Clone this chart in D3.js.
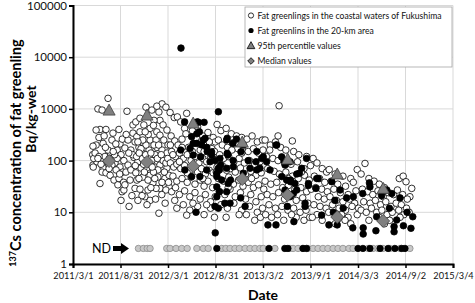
<!DOCTYPE html>
<html>
<head>
<meta charset="utf-8">
<script src="https://cdn.jsdelivr.net/npm/d3@7"></script>
<style>
  body { margin: 0; background: #fff; }
  svg { display: block; font-family: Lato, "Open Sans", sans-serif; }
</style>
</head>
<body>
<div id="chart"></div>
<script>
// days counted from 2011/3/1, values in Bq/kg-wet
var startDate = new Date(2011, 2, 1);

var xTickLabels = ["2011/3/1","2011/8/31","2012/3/1","2012/8/31","2013/3/2","2013/9/1","2014/3/3","2014/9/2","2015/3/4"];
var yTickValues = [1, 10, 100, 1000, 10000, 100000];

// fat greenlings, coastal waters of Fukushima (open circles)
var coastalPts = [
  [96,1000],[112,950],[135,1600],[208,900],[104,400],[127,400],[154,340],[177,400],[150,250],[89,200],
  [116,215],[181,210],[77,190],[77,82],[92,95],[116,72],[112,60],[127,58],[104,36],[162,90],
  [181,75],[143,52],[158,42],[173,34],[189,25],[185,17],[196,27],[150,82],[166,66],[177,45],
  [192,60],[143,130],[170,160],[196,100],[185,130],[200,175],[135,160],[123,120],[89,390],[76,130],
  [80,110],[78,75],[85,140],[100,280],[120,300],[100,120],[131,95],[139,70],[108,85],[165,210],
  [150,110],[190,260],[170,110],[160,130],[96,110],[125,180],[140,110],[155,150],[180,55],[195,38],
  [216,13],[200,34],[220,42],[239,29],[246,42],[258,28],[269,48],[231,340],[231,490],[246,290],
  [239,230],[254,180],[266,140],[297,250],[281,1080],[304,950],[331,870],[335,600],[347,490],[323,360],
  [323,180],[343,160],[362,140],[316,75],[335,82],[362,72],[327,48],[354,45],[370,31],[335,29],
  [331,9.6],[212,250],[223,160],[235,115],[250,95],[262,72],[273,100],[285,72],[297,52],[308,37],
  [289,27],[277,20],[304,100],[316,130],[293,160],[281,200],[269,250],[258,360],[242,560],[258,660],
  [273,490],[297,420],[312,600],[320,250],[335,310],[350,250],[362,390],[347,100],[358,90],[327,66],
  [297,17],[285,14],[266,21],[250,17],[227,21],[212,82],[204,60],[223,66],[242,58],[254,45],
  [289,42],[320,29],[343,38],[358,27],[370,52],[366,200],[343,1250],[323,1130],[358,1080],[266,110],
  [280,130],[292,85],[310,60],[300,30],[240,80],[230,130],[215,140],[205,320],[250,230],[262,170],
  [275,60],[300,140],[312,200],[325,110],[340,130],[352,60],[365,110],[368,38],[318,18],[342,22],
  [355,15],[290,320],[278,360],[310,480],[330,200],[245,120],[255,140],[272,85],[305,75],[315,45],
  [374,850],[390,680],[402,700],[438,820],[415,560],[430,420],[460,380],[480,450],[500,300],[520,350],
  [540,280],[378,300],[392,240],[405,200],[420,260],[445,180],[470,220],[490,160],[510,200],[535,170],
  [548,230],[380,150],[395,120],[410,140],[425,110],[440,130],[455,100],[470,120],[485,90],[500,110],
  [515,95],[530,120],[545,105],[375,90],[388,75],[400,85],[415,70],[430,80],[450,65],[465,75],
  [480,60],[495,70],[510,55],[525,65],[540,58],[385,50],[400,40],[420,45],[440,38],[455,48],
  [470,35],[490,42],[505,32],[520,40],[538,30],[380,25],[395,30],[410,22],[430,26],[450,20],
  [470,24],[490,18],[510,22],[530,16],[548,20],[400,12],[425,14],[450,11],[480,13],[505,9],
  [530,12],[545,8],[392,17],[462,15],[515,14],[375,200],[435,330],[475,280],[505,150],[525,230],
  [545,150],[410,95],[460,150],[500,45],[420,180],[385,130],[440,58],[438,8.8],
  [555,500],[570,380],[590,420],[610,330],[630,300],[650,280],[670,260],[690,300],[710,230],[730,250],
  [560,250],[575,200],[595,180],[615,220],[635,170],[655,190],[675,150],[695,170],[715,140],[732,160],
  [565,130],[580,110],[600,120],[620,95],[640,110],[660,90],[680,100],[700,85],[720,95],[555,75],
  [575,80],[592,65],[608,70],[625,60],[645,72],[665,55],[685,62],[705,52],[725,58],[560,45],
  [580,40],[600,48],[618,35],[638,42],[655,32],[675,38],[695,30],[715,34],[735,28],[565,25],
  [585,22],[605,28],[625,20],[645,24],[665,18],[685,22],[705,16],[725,20],[570,14],[595,12],
  [620,15],[650,11],[680,13],[710,10],[730,12],[590,8],[640,9],[700,7],[612,160],[688,45],
  [552,60],[650,140],[598,30],[668,9],[722,8],
  [794,1150],[740,250],[760,200],[780,230],[800,180],[820,160],[850,150],[870,130],[900,120],[745,120],
  [770,110],[790,100],[815,90],[840,85],[865,95],[890,70],[915,80],[750,70],[775,62],[795,55],
  [820,60],[845,50],[868,45],[892,52],[910,42],[740,40],[762,35],[785,38],[808,30],[830,33],
  [855,28],[878,30],[900,25],[918,28],[748,22],[770,20],[792,24],[815,18],[838,21],[860,17],
  [885,19],[905,15],[755,14],[780,12],[805,13],[828,11],[850,12],[875,10],[898,11],[765,8],
  [812,7],[860,8],[890,7],[830,45],[758,160],[880,60],[845,240],[790,300],[742,9],[788,9],[842,9],[912,8],
  [925,110],[940,90],[960,70],[977,60],[987,67],[1010,55],[1040,50],[1070,45],[1095,67],[930,50],
  [950,45],[970,38],[995,40],[1020,35],[1050,32],[1080,38],[935,30],[958,28],[980,25],[1005,28],
  [1030,24],[1060,22],[1090,26],[945,20],[968,18],[990,20],[1015,17],[1040,16],[1065,18],[1085,15],
  [928,14],[952,13],[975,12],[1000,14],[1025,12],[1050,11],[1075,13],[1100,12],[940,9],[985,10],
  [1035,9],[1060,8],[1095,9],[960,7],[1010,6],[1070,6],[922,8],[1022,7.5],[1048,7],
  [1125,88],[1110,55],[1140,45],[1160,40],[1180,35],[1200,30],[1257,45],[1272,50],[1283,39],[1305,29],
  [1298,20],[1115,28],[1135,25],[1155,22],[1175,26],[1195,20],[1215,24],[1235,22],[1250,27],[1270,22],
  [1288,18],[1120,16],[1145,15],[1165,17],[1185,14],[1205,16],[1225,13],[1245,15],[1265,14],[1285,12],
  [1110,11],[1130,10],[1150,12],[1170,10],[1190,11],[1210,9],[1230,10],[1255,11],[1275,9],[1295,10],
  [1140,7],[1180,8],[1220,7],[1260,8],[1200,6]
];

// fat greenlings in the 20-km area (filled circles)
var zonePts = [
  [416,15000],[560,880],[430,560],[479,560],[505,550],[457,290],[487,360],[477,215],[502,250],[515,180],
  [415,160],[451,172],[463,128],[492,118],[534,148],[547,100],[431,66],[457,49],[489,49],[515,66],
  [560,71],[554,57],[554,31],[483,550],[477,330],[509,270],[463,215],[496,200],[517,150],[534,128],
  [528,95],[566,110],[569,82],[564,66],[554,49],[573,42],[564,25],[554,20],[547,13],[560,12],
  [548,4],[474,10],
  [594,270],[630,260],[594,138],[617,100],[592,71],[607,42],[592,25],[605,15],[585,15],[656,200],
  [647,148],[675,100],[682,71],[656,57],[646,19],[663,13],[708,66],[727,110],[616,215],[597,128],
  [618,76],[598,36],[592,250],
  [746,95],[759,66],[782,200],[804,118],[817,82],[836,95],[862,55],[881,71],[900,110],[907,36],
  [838,39],[817,27],[836,20],[862,27],[894,15],[939,45],[936,29],[751,5.7],[782,5.7],[708,150],
  [705,95],[733,118],[720,71],[785,200],[813,100],[804,49],[823,42],[838,42],[855,36],[849,23],
  [826,13],[872,57],[894,13],[907,33],[851,6.6],
  [945,45],[958,8.8],[997,39],[1029,27],[1041,12],[1009,17],[1003,10],[1054,19],[1080,20],[1078,5],
  [986,5.7],[1018,5.7],
  [1116,23],[1142,37],[1144,31],[1118,5],[1118,3.8],[1167,4.4],[1170,8.2],[1189,21],[1209,27],[1219,12],
  [1228,23],[1260,19],[1237,5.3],[1237,4.2],[1273,5.5],[1302,4.9],[1309,8.2],[1247,7.1],[1287,10]
];

// not detected, plotted at 2 Bq/kg-wet
var ndValue = 2;
var ndCoastalDays = [252,271,286,297,361,374,397,419,440,477,502,521,573,589,605,624,641,663,682,701,
  720,733,778,836,848,867,886,905,925,944,963,982,1002,1021,1040,1063,1079,1137,1156,1175,1194,1221,1260,1298];
var ndZoneDays = [554,755,816,828,886,900,1098,1117,1144,1183,1214,1240,1266,1279];

var periodDates = ["2011/7/18","2011/12/11","2012/6/6","2012/12/12","2013/6/5","2013/12/13","2014/6/8"];
var pct95Values = [946,757,531,228,107,55,29];
var medianValues = [98,94,78,44,21.5,8.1,6.8];

var legendLabels = [
  "Fat greenlings in the coastal waters of Fukushima",
  "Fat greenlins in the 20-km area",
  "95th percentile values",
  "Median values"
];

var width = 475, height = 303;
var margin = {top: 5.5, right: 22, bottom: 39, left: 73};

var parseDate = d3.timeParse("%Y/%m/%d");
function dayToDate(d) { return new Date(2011, 2, 1 + d); }

var svg = d3.select("#chart").append("svg")
  .attr("width", width)
  .attr("height", height);

var x = d3.scaleTime()
  .domain([startDate, parseDate("2015/3/4")])
  .range([margin.left, width - margin.right]);

var y = d3.scaleLog()
  .domain([1, 100000])
  .range([height - margin.bottom, margin.top]);

var xTicks = xTickLabels.map(parseDate);

// grid
svg.append("g").selectAll("line.h")
  .data(yTickValues).enter().append("line")
    .attr("x1", margin.left).attr("x2", width - margin.right)
    .attr("y1", function(d){ return y(d); }).attr("y2", function(d){ return y(d); })
    .style("stroke", "#d9d9d9").style("stroke-width", 1);
svg.append("g").selectAll("line.v")
  .data(xTicks).enter().append("line")
    .attr("x1", function(d){ return x(d); }).attr("x2", function(d){ return x(d); })
    .attr("y1", margin.top).attr("y2", height - margin.bottom)
    .style("stroke", "#d9d9d9").style("stroke-width", 1);

// axes
var xAxis = svg.append("g")
  .attr("transform", "translate(0," + (height - margin.bottom) + ")")
  .call(d3.axisBottom(x).tickValues(xTicks).tickSize(4)
    .tickFormat(function(d, i){ return xTickLabels[i]; }));
xAxis.select(".domain").style("stroke", "#000").style("stroke-width", 2);
xAxis.selectAll(".tick line").style("stroke", "#000").style("stroke-width", 1.5);
xAxis.selectAll(".tick text")
  .attr("y", 8)
  .style("font-size", "9.2px").style("fill", "#111")
  .style("font-family", "Lato, sans-serif");

var yAxis = svg.append("g")
  .attr("transform", "translate(" + margin.left + ",0)")
  .call(d3.axisLeft(y).tickValues(yTickValues).tickSize(4).tickFormat(d3.format("d")));
yAxis.select(".domain").style("stroke", "#000").style("stroke-width", 2);
yAxis.selectAll(".tick line").style("stroke", "#000").style("stroke-width", 1.5);
yAxis.selectAll(".tick text")
  .attr("x", -6)
  .style("font-size", "11.5px").style("fill", "#111")
  .style("font-family", "Lato, sans-serif");

// ND points
svg.append("g").selectAll("circle")
  .data(ndCoastalDays).enter().append("circle")
    .attr("cx", function(d){ return x(dayToDate(d)); })
    .attr("cy", y(ndValue))
    .attr("r", 3.2)
    .style("fill", "#c8c8c8").style("stroke", "#8c8c8c").style("stroke-width", 0.8);
svg.append("g").selectAll("circle")
  .data(ndZoneDays).enter().append("circle")
    .attr("cx", function(d){ return x(dayToDate(d)); })
    .attr("cy", y(ndValue))
    .attr("r", 3.2)
    .style("fill", "#000").style("stroke", "#000").style("stroke-width", 0.8);

// coastal
svg.append("g").selectAll("circle")
  .data(coastalPts).enter().append("circle")
    .attr("cx", function(d){ return x(dayToDate(d[0])); })
    .attr("cy", function(d){ return y(d[1]); })
    .attr("r", 3.3)
    .style("fill", "#fff").style("stroke", "#000").style("stroke-width", 0.8);

// 20-km area
svg.append("g").selectAll("circle")
  .data(zonePts).enter().append("circle")
    .attr("cx", function(d){ return x(dayToDate(d[0])); })
    .attr("cy", function(d){ return y(d[1]); })
    .attr("r", 3.3)
    .style("fill", "#000").style("stroke", "#000").style("stroke-width", 0.8);

function triPath(s) { return "M0," + (-s*0.55) + "L" + (s*0.55) + "," + (s*0.45) + "L" + (-s*0.55) + "," + (s*0.45) + "Z"; }
function diaPath(s) { return "M0," + (-s) + "L" + s + ",0L0," + s + "L" + (-s) + ",0Z"; }

// 95th percentile
svg.append("g").selectAll("path")
  .data(pct95Values).enter().append("path")
    .attr("transform", function(d, i){ return "translate(" + x(parseDate(periodDates[i])) + "," + y(d) + ")"; })
    .attr("d", triPath(11))
    .style("fill", "#808080").style("stroke", "#404040").style("stroke-width", 0.8);

// medians
svg.append("g").selectAll("path")
  .data(medianValues).enter().append("path")
    .attr("transform", function(d, i){ return "translate(" + x(parseDate(periodDates[i])) + "," + y(d) + ")"; })
    .attr("d", diaPath(6.5))
    .style("fill", "#808080").style("stroke", "#404040").style("stroke-width", 0.8);

// ND annotation
var ndY = y(ndValue);
svg.append("text")
  .attr("x", 92).attr("y", ndY + 4.5)
  .style("font-size", "12.5px").style("fill", "#000")
  .text("ND");
svg.append("path")
  .attr("d", "M113," + (ndY - 2.5) + "H121V" + (ndY - 5.5) + "L129," + ndY + "L121," + (ndY + 5.5) + "V" + (ndY + 2.5) + "H113Z")
  .style("fill", "#000");

// axis titles
svg.append("text")
  .attr("x", x(parseDate("2013/3/2"))).attr("y", 300)
  .attr("text-anchor", "middle")
  .style("font-size", "14px").style("font-weight", "bold")
  .text("Date");

var yl = svg.append("text")
  .attr("transform", "translate(21,153) rotate(-90)")
  .attr("text-anchor", "middle")
  .style("font-size", "14.6px").style("font-weight", "bold");
yl.append("tspan").attr("baseline-shift", "super").style("font-size", "9px").text("137");
yl.append("tspan").text("Cs concentration of fat greenling");

svg.append("text")
  .attr("transform", "translate(36,119) rotate(-90)")
  .attr("text-anchor", "middle")
  .style("font-size", "14px").style("font-weight", "bold")
  .text("Bq/kg-wet");

// legend
var lg = svg.append("g").attr("transform", "translate(245,7)");
lg.append("rect")
  .attr("width", 207).attr("height", 60)
  .style("fill", "#fff").style("stroke", "#a6a6a6").style("stroke-width", 0.8);
var rowY = [8.5, 23.5, 38.5, 54];
lg.append("circle").attr("cx", 6).attr("cy", rowY[0]).attr("r", 2.6)
  .style("fill", "#fff").style("stroke", "#000").style("stroke-width", 0.8);
lg.append("circle").attr("cx", 6).attr("cy", rowY[1]).attr("r", 2.6)
  .style("fill", "#000");
lg.append("path").attr("transform", "translate(6," + rowY[2] + ")").attr("d", triPath(7))
  .style("fill", "#808080").style("stroke", "#000").style("stroke-width", 0.8);
lg.append("path").attr("transform", "translate(6," + rowY[3] + ")").attr("d", diaPath(3.3))
  .style("fill", "#808080").style("stroke", "#000").style("stroke-width", 0.8);
lg.selectAll("text.lab")
  .data(legendLabels).enter().append("text")
    .attr("x", 12.5)
    .attr("y", function(d, i){ return rowY[i] + 3; })
    .style("font-size", "8.6px").style("fill", "#111")
    .text(function(d){ return d; });
</script>
</body>
</html>
